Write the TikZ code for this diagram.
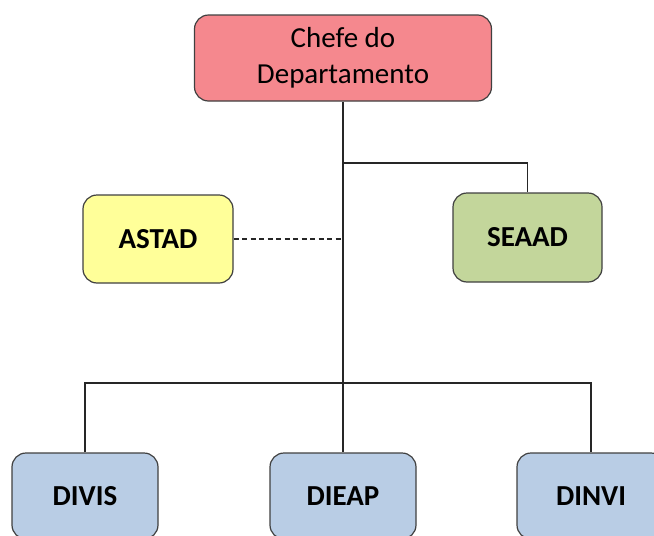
\documentclass[tikz,border=0pt]{standalone}
\usepackage{fontspec}
\setmainfont{Carlito}
\definecolor{chefefill}{RGB}{245,136,142}
\definecolor{astadfill}{RGB}{255,255,153}
\definecolor{seaadfill}{RGB}{195,214,155}
\definecolor{divfill}{RGB}{185,205,229}
\definecolor{edge}{RGB}{64,64,64}
\begin{document}
\begin{tikzpicture}[x=1pt,y=-1pt,
  orgbox/.style={draw=edge, line width=1.2pt, rounded corners=14pt,
    inner sep=0pt, align=center, font=\fontsize{29}{36}\selectfont},
  unitbox/.style={orgbox, font=\fontsize{29}{36}\selectfont\bfseries},
  link/.style={draw=black!85, line width=1.4pt},
  dottedlink/.style={link, dash pattern=on 5pt off 3.5pt}]
\useasboundingbox (0,0) rectangle (654,536);
\clip (0,0) rectangle (654,536);

% head of department
\node[orgbox, fill=chefefill, minimum width=297pt, minimum height=86pt]
  (chefe) at (343,58) {Chefe do\\Departamento};

% staff units
\node[unitbox, fill=astadfill, minimum width=150pt, minimum height=88pt]
  (astad) at (158,239) {ASTAD};
\node[unitbox, fill=seaadfill, minimum width=149pt, minimum height=89pt]
  (seaad) at (527.5,237.5) {SEAAD};

% divisions
\node[unitbox, fill=divfill, minimum width=146pt, minimum height=86pt]
  (divis) at (85,496) {DIVIS};
\node[unitbox, fill=divfill, minimum width=146pt, minimum height=86pt]
  (dieap) at (343,496) {DIEAP};
\node[unitbox, fill=divfill, minimum width=148pt, minimum height=86pt]
  (dinvi) at (591,496) {DINVI};

% connectors
\coordinate (seaadjoin) at (chefe.south |- 0,163);
\coordinate (busright) at (dinvi.north |- 0,383);

\draw[link] (chefe.south) -- (dieap.north);
\draw[link] (seaadjoin) -| (seaad.north);
\draw[dottedlink] (astad.east) -- (astad.east -| chefe.south);
\draw[link] (divis.north) |- (busright) -- (dinvi.north);
\end{tikzpicture}
\end{document}
